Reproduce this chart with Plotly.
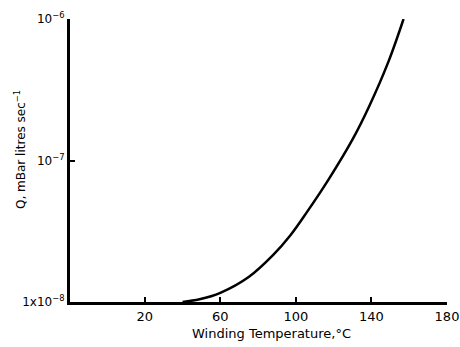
import plotly.graph_objects as go

temperature = [40, 49, 60, 75, 88, 97, 106, 117, 130, 139, 149, 157]
leak_rate = [1.0e-8, 1.045e-8, 1.16e-8, 1.5e-8, 2.15e-8, 2.95e-8, 4.35e-8, 7.24e-8, 1.41e-7, 2.45e-7, 5.0e-7, 1.0e-6]

x_ticks = [20, 60, 100, 140, 180]
y_tick_vals = [1e-8, 1e-7, 1e-6]
y_tick_text = ["1x10<sup>\u22128</sup>", "10<sup>\u22127</sup>", "10<sup>\u22126</sup>"]

fig = go.Figure()
fig.add_trace(go.Scatter(
    x=temperature, y=leak_rate, mode="lines",
    line=dict(color="black", width=2.5, shape="spline", smoothing=1.0),
    showlegend=False, hoverinfo="skip"))

font = dict(family="DejaVu Sans, Arial, sans-serif", size=12, color="black")

fig.update_layout(
    template="none",
    width=460, height=347,
    margin=dict(l=70, r=13, t=19, b=45, autoexpand=False),
    paper_bgcolor="white", plot_bgcolor="white",
    font=font,
    hovermode=False,
    xaxis=dict(range=[-19.6, 180], tickvals=x_ticks, ticks="inside", ticklen=5,
               tickwidth=2, tickcolor="black", showline=True, linewidth=3,
               linecolor="black", showgrid=False, zeroline=False, automargin=False,
               tickfont=dict(size=13)),
    yaxis=dict(type="log", range=[-8, -6], tickvals=y_tick_vals, ticktext=y_tick_text,
               ticks="inside", ticklen=5, tickwidth=2, tickcolor="black",
               showline=True, linewidth=3, linecolor="black", showgrid=False,
               zeroline=False, automargin=False, tickfont=dict(size=12)),
    annotations=[
        dict(text="Winding Temperature,\u00b0C", xref="paper", yref="paper",
             x=(271 - 70) / 377, y=0, yshift=-31, showarrow=False,
             xanchor="center", yanchor="middle", font=dict(size=13)),
        dict(text="Q, mBar litres sec<sup>\u22121</sup>", xref="paper", yref="paper",
             x=0, xshift=-50, y=(302 - 150) / 283, textangle=-90, showarrow=False,
             xanchor="center", yanchor="middle", font=dict(size=12)),
    ],
)

fig.write_html(
    "out.html",
    config={"displayModeBar": False, "staticPlot": True},
    post_script="document.body.style.margin='0';document.body.style.overflow='hidden';",
)
